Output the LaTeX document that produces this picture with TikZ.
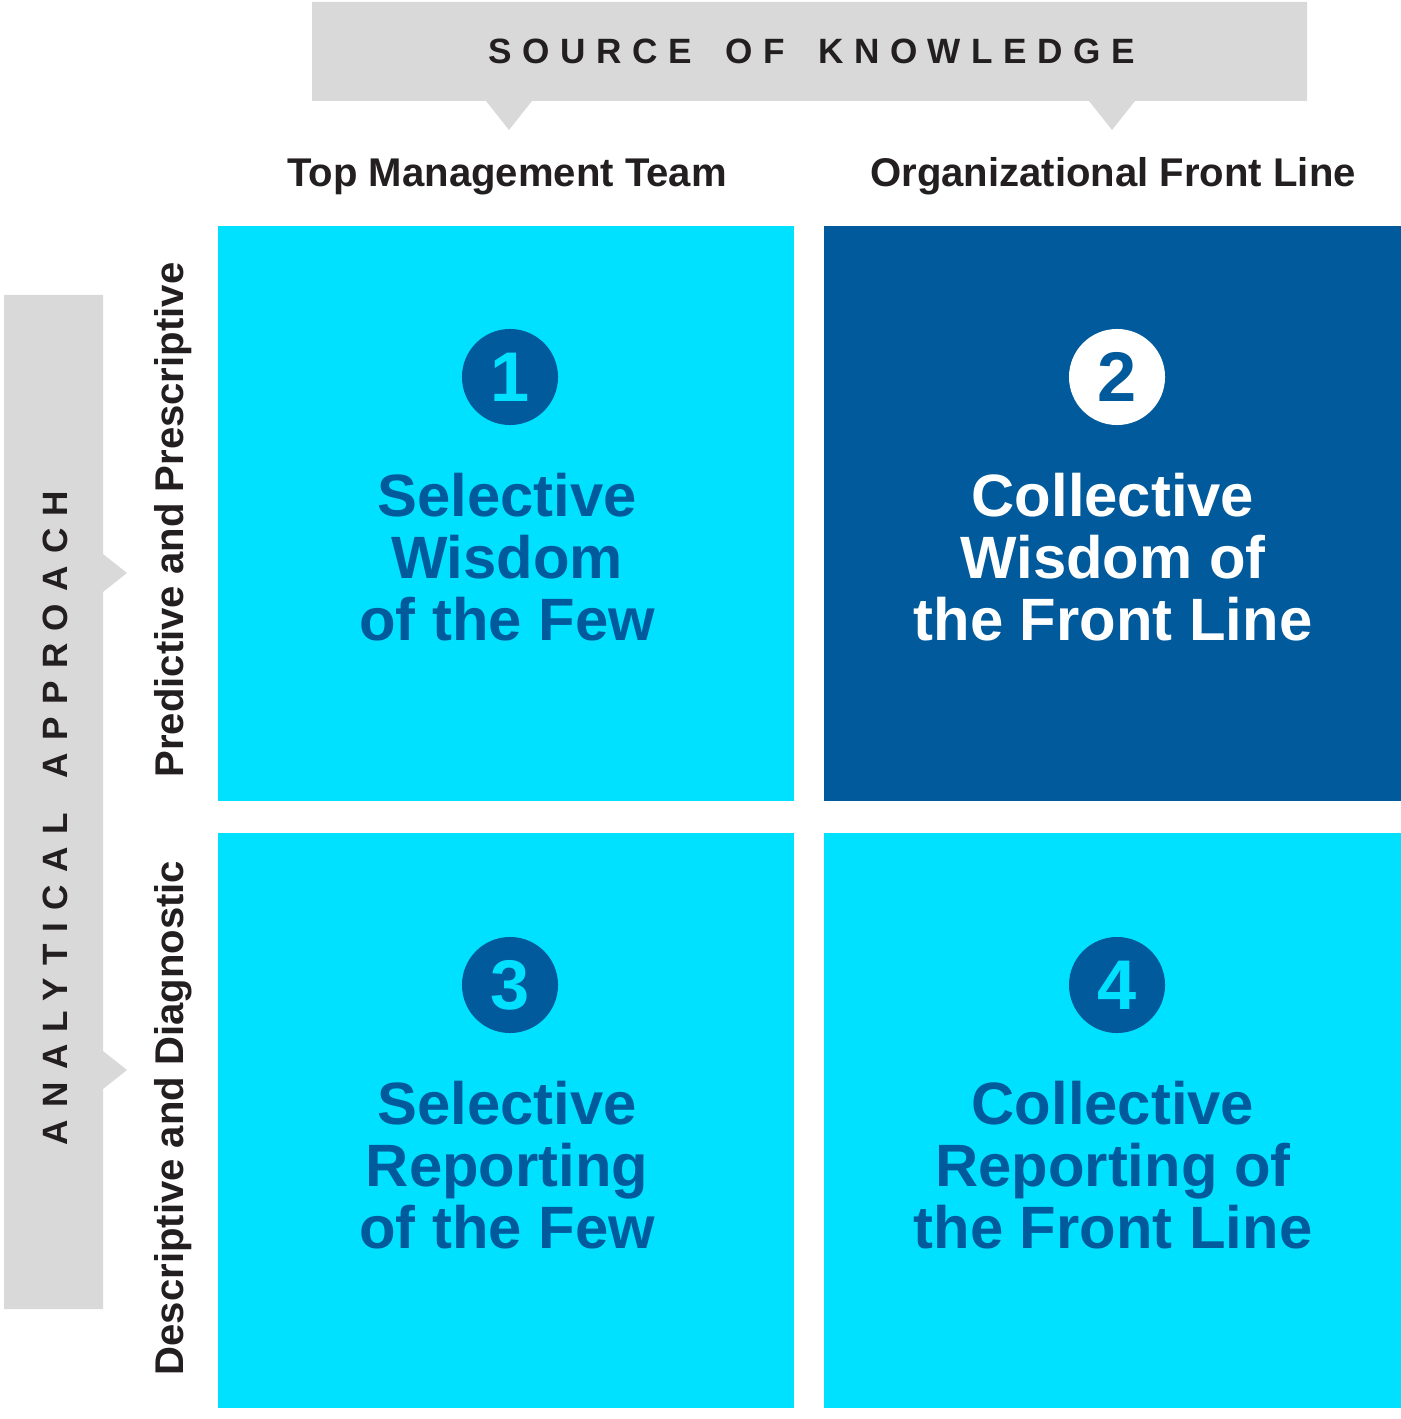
\documentclass[tikz,border=0pt]{standalone}
\usepackage{fontspec}
\setmainfont{Liberation Sans}
\newfontfamily\trackfont[LetterSpace=30]{Liberation Sans}
\newfontfamily\widetrackfont[LetterSpace=35]{Liberation Sans}
\definecolor{quadcyan}{HTML}{00E1FF}
\definecolor{quaddark}{HTML}{005A9C}
\definecolor{bannergray}{HTML}{D9D9D9}
\definecolor{labelblack}{HTML}{231F20}

\begin{document}
\begin{tikzpicture}[x=0.01cm,y=-0.01cm,
  quad/.style={minimum width=5.76cm,minimum height=5.75cm,inner sep=0pt,outer sep=0pt},
  badge/.style={circle,minimum size=0.96cm,inner sep=0pt,font=\fontsize{20}{20}\selectfont\bfseries},
  quadtitle/.style={align=center,font=\fontsize{17}{17.6}\selectfont\bfseries},
  axislabel/.style={font=\trackfont\fontsize{10}{12}\selectfont\bfseries,text=labelblack,inner sep=0pt},
  headlabel/.style={font=\fontsize{11.4}{13}\selectfont\bfseries,text=labelblack,inner sep=0pt}]
\useasboundingbox (0,0) rectangle (1400,1419);
% banners
\fill[bannergray] (312,2) -- (1307,2) -- (1307,101) -- (1135,101) -- (1112,130) -- (1089,101)
  -- (532,101) -- (509,130) -- (486,101) -- (312,101) -- cycle;
\fill[bannergray] (4,295) -- (103,295) -- (103,554) -- (127,573) -- (103,592) -- (103,1051)
  -- (127,1070) -- (103,1089) -- (103,1309) -- (4,1309) -- cycle;
\node[axislabel,anchor=base] (source) at (812,64) {SOURCE\hspace{0.13cm} OF\hspace{0.13cm} KNOWLEDGE};
\node[axislabel,font=\widetrackfont\fontsize{10}{12}\selectfont\bfseries,anchor=base,rotate=90] (approach) at (67,818) {ANALYTICAL\hspace{0.13cm} APPROACH};
% column and row heads
\node[headlabel,anchor=base] (topteam) at (507,187) {Top Management Team};
\node[headlabel,anchor=base] (frontline) at (1113,187) {Organizational Front Line};
\node[headlabel,anchor=base,rotate=90] (predictive) at (183,520) {Predictive and Prescriptive};
\node[headlabel,anchor=base,rotate=90] (descriptive) at (183,1118) {Descriptive and Diagnostic};
% quadrants
\node[quad,fill=quadcyan] (q1) at (506,513.5) {};
\node[quad,fill=quaddark] (q2) at (1112.5,513.5) {};
\node[quad,fill=quadcyan] (q3) at (506,1120.5) {};
\node[quad,fill=quadcyan] (q4) at (1112.5,1120.5) {};
\node[badge,fill=quaddark,text=quadcyan] (n1) at (510,377) {1};
\node[badge,fill=white,text=quaddark] (n2) at (1117,377) {2};
\node[badge,fill=quaddark,text=quadcyan] (n3) at (510,985) {3};
\node[badge,fill=quaddark,text=quadcyan] (n4) at (1117,985) {4};
\node[quadtitle,text=quaddark] (t1) at (507,557) {Selective\\Wisdom\\of the Few};
\node[quadtitle,text=white] (t2) at (1113,557) {Collective\\Wisdom of\\the Front Line};
\node[quadtitle,text=quaddark] (t3) at (507,1165) {Selective\\Reporting\\of the Few};
\node[quadtitle,text=quaddark] (t4) at (1113,1165) {Collective\\Reporting of\\the Front Line};
\end{tikzpicture}
\end{document}
